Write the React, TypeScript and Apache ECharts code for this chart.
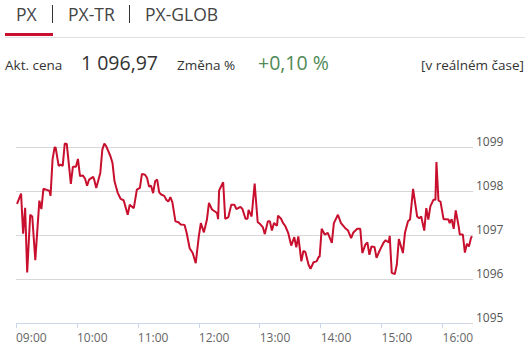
import React, { useEffect, useRef } from "react";
import * as echarts from "echarts";

const times: string[] = [
  "09:01","09:05","09:07","09:09","09:11","09:14","09:16","09:19","09:23","09:25","09:27","09:31","09:33","09:34","09:36","09:38","09:39","09:42","09:44","09:46","09:48","09:50","09:54","09:56","09:59",
  "10:01","10:03","10:06","10:08","10:10","10:12","10:16","10:17","10:19","10:23","10:25","10:27","10:29","10:33","10:35","10:37","10:40","10:43","10:46","10:50","10:52","10:56","10:59",
  "11:02","11:04","11:07","11:09","11:11","11:13","11:15","11:17","11:19","11:21","11:23","11:26","11:28","11:30","11:32","11:34","11:37","11:40","11:42","11:46","11:48","11:51","11:54","11:57",
  "12:00","12:02","12:05","12:08","12:10","12:13","12:18","12:19","12:20","12:24","12:26","12:29","12:32","12:35","12:37","12:41","12:43","12:46","12:48","12:49","12:52","12:55","12:58",
  "13:00","13:03","13:05","13:08","13:10","13:12","13:14","13:17","13:18","13:21","13:23","13:25","13:28","13:31","13:34","13:36","13:38","13:41","13:43","13:45","13:48","13:50","13:53","13:56","13:58","13:59",
  "14:01","14:04","14:07","14:11","14:13","14:17","14:20","14:24","14:27","14:30","14:32","14:36","14:39","14:41","14:44","14:46","14:48","14:50","14:53","14:55","14:57","14:59",
  "15:02","15:04","15:07","15:08","15:10","15:13","15:15","15:17","15:21","15:23","15:26","15:28","15:31","15:35","15:37","15:39","15:42","15:44","15:46","15:48","15:51","15:53","15:54","15:56","15:58",
  "16:01","16:03","16:06","16:07","16:09","16:11","16:13","16:16","16:17","16:20","16:22","16:24","16:26","16:28","16:29"
];

const values: number[] = [
  1097.71,1097.94,1097.03,1097.62,1096.15,1097.46,1097.42,1096.43,1097.78,1097.59,1098.05,1098.02,1098.0,1097.89,1098.72,1098.99,1098.99,1098.57,1098.6,1098.57,1099.08,1099.07,1098.16,1098.55,1098.55,
  1098.73,1098.34,1098.35,1098.28,1098.12,1098.26,1098.32,1098.26,1098.07,1098.41,1098.94,1099.08,1099.01,1098.79,1098.64,1098.22,1097.97,1097.82,1097.79,1097.46,1097.69,1097.61,1098.03,
  1098.07,1098.39,1098.37,1098.3,1098.1,1098.12,1097.95,1098.22,1098.26,1097.97,1097.92,1097.89,1097.8,1097.76,1097.86,1097.74,1097.31,1097.29,1097.24,1097.23,1097.05,1096.7,1096.59,1096.36,
  1096.97,1097.27,1097.06,1097.35,1097.73,1097.58,1097.5,1097.36,1098.01,1098.2,1097.37,1097.4,1097.69,1097.69,1097.59,1097.64,1097.59,1097.37,1097.37,1097.57,1097.42,1098.17,1097.29,
  1097.26,1097.18,1097.02,1097.31,1097.31,1097.1,1097.27,1097.21,1097.44,1097.37,1097.27,1097.21,1097.05,1096.76,1096.95,1096.72,1096.97,1096.4,1096.64,1096.61,1096.33,1096.23,1096.38,1096.4,1096.5,1096.51,
  1097.14,1097.01,1097.05,1096.82,1097.27,1097.46,1097.27,1097.16,1097.1,1096.93,1097.05,1097.14,1097.14,1096.59,1096.78,1096.83,1096.55,1096.74,1096.73,1096.48,1096.59,1096.69,
  1096.83,1096.88,1096.83,1096.98,1096.14,1096.11,1096.33,1096.91,1096.59,1097.05,1097.31,1097.35,1098.05,1097.42,1097.38,1097.42,1097.1,1097.61,1097.35,1097.65,1097.8,1097.8,1098.66,1097.78,1097.76,
  1097.36,1097.36,1097.35,1097.27,1097.36,1097.14,1097.56,1097.18,1097.01,1097.01,1096.6,1096.8,1096.74,1096.93,1096.97
];

const hourLabels: string[] = ["09:00", "10:00", "11:00", "12:00", "13:00", "14:00", "15:00", "16:00"];
const yTicks: number[] = [1095, 1096, 1097, 1098, 1099];
const tabs: string[] = ["PX", "PX-TR", "PX-GLOB"];
const priceLabel = "Akt. cena";
const priceValue = "1 096,97";
const changeLabel = "Změna %";
const changeValue = "+0,10 %";
const realtimeLabel = "[v reálném čase]";

const START_MIN = 9 * 60;
const toMin = (s: string) => {
  const [h, m] = s.split(":").map(Number);
  return h * 60 + m - START_MIN;
};

const FONT = "'Open Sans', 'Noto Sans', sans-serif";

export default function App() {
  const ref = useRef<HTMLDivElement>(null);
  useEffect(() => {
    if (!ref.current) return;
    const chart = echarts.init(ref.current, null, { renderer: "svg" });
    const data = times.map((t, i) => [toMin(t), values[i]]);
    const hourTicks = hourLabels.map((l) => toMin(l));
    chart.setOption({
      animation: false,
      backgroundColor: "#fff",
      grid: { left: 16, top: 147, width: 457, height: 176, containLabel: false },
      xAxis: {
        type: "value",
        min: 0,
        max: 450,
        interval: 60,
        axisLine: { show: false },
        splitLine: { show: false },
        axisTick: {
          show: true,
          length: 5,
          customValues: hourTicks,
          lineStyle: { color: "#ccd6eb", width: 1 },
        },
        axisLabel: {
          customValues: hourTicks,
          formatter: (v: number) => {
            const idx = hourTicks.indexOf(v);
            return idx >= 0 ? hourLabels[idx] : "";
          },
          align: "left",
          margin: 8,
          color: "#666",
          fontSize: 12,
          fontFamily: FONT,
        },
      },
      yAxis: {
        type: "value",
        position: "right",
        min: yTicks[0],
        max: yTicks[yTicks.length - 1],
        interval: 1,
        axisLine: { show: false },
        axisTick: { show: false },
        splitLine: { show: true, lineStyle: { color: "#d8d8d8", width: 1 } },
        axisLabel: {
          formatter: (v: number) => String(v),
          margin: 3,
          color: "#555",
          fontSize: 12,
          fontFamily: FONT,
          verticalAlign: "bottom",
          lineHeight: 12,
        },
      },
      series: [
        {
          type: "line",
          data,
          showSymbol: false,
          clip: false,
          lineStyle: { color: "#c8102e", width: 2 },
          itemStyle: { color: "#c8102e" },
        },
      ],
      graphic: [
        { type: "line", z: 10, shape: { x1: 16, y1: 323.5, x2: 467, y2: 323.5 }, style: { stroke: "#ccd6eb", lineWidth: 1 } },
        { type: "line", z: 5, shape: { x1: 5, y1: 37.5, x2: 525, y2: 37.5 }, style: { stroke: "#e0e0e0", lineWidth: 1 } },
        { type: "rect", z: 6, shape: { x: 5, y: 33, width: 48, height: 3 }, style: { fill: "#c8102e" } },
        { type: "text", x: 16, y: 14, style: { text: tabs[0], font: `17.5px ${FONT}`, fill: "#444", verticalAlign: "middle" } },
        { type: "line", shape: { x1: 52.5, y1: 5, x2: 52.5, y2: 23 }, style: { stroke: "#333", lineWidth: 1 } },
        { type: "text", x: 68, y: 14, style: { text: tabs[1], font: `17.5px ${FONT}`, fill: "#444", verticalAlign: "middle" } },
        { type: "line", shape: { x1: 129.5, y1: 5, x2: 129.5, y2: 23 }, style: { stroke: "#333", lineWidth: 1 } },
        { type: "text", x: 145, y: 14, style: { text: tabs[2], font: `17.5px ${FONT}`, fill: "#444", verticalAlign: "middle" } },
        { type: "text", x: 5, y: 64.5, style: { text: priceLabel, font: `13.5px ${FONT}`, fill: "#333", verticalAlign: "middle" } },
        { type: "text", x: 81, y: 62, style: { text: priceValue, font: `19.5px ${FONT}`, fill: "#333", verticalAlign: "middle" } },
        { type: "text", x: 177, y: 64.5, style: { text: changeLabel, font: `13.5px ${FONT}`, fill: "#333", verticalAlign: "middle" } },
        { type: "text", x: 258, y: 62, style: { text: changeValue, font: `19.5px ${FONT}`, fill: "#4f8a55", verticalAlign: "middle" } },
        { type: "text", x: 524, y: 64.5, style: { text: realtimeLabel, font: `13.5px ${FONT}`, fill: "#333", align: "right", verticalAlign: "middle" } },
      ],
    });
    return () => chart.dispose();
  }, []);
  return (
    <div
      ref={ref}
      style={{ position: "fixed", left: 0, top: 0, width: 530, height: 353, background: "#fff" }}
    />
  );
}
